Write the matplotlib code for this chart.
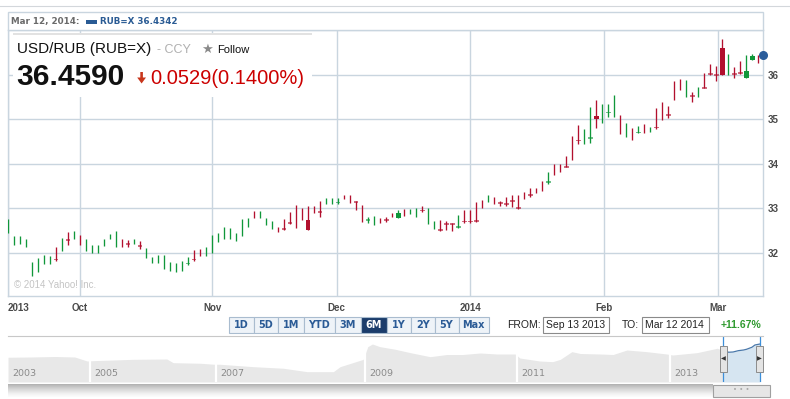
import numpy as np
import matplotlib
matplotlib.use("Agg")
import matplotlib.pyplot as plt
from matplotlib.patches import Rectangle, Polygon
from matplotlib.lines import Line2D

plt.rcParams['font.family'] = ['Liberation Sans', 'DejaVu Sans']

# one candle per weekday, Sep 13 2013 .. Mar 12 2014
highs = [32.75, 32.37, 32.37, 32.31, 31.79, 31.89, 31.95, 31.92, 32.12, 32.34,
         32.47, 32.50, 32.41, 32.32, 32.18, 32.18, 32.31, 32.42, 32.50, 32.30,
         32.29, 32.30, 32.27, 32.11, 31.90, 31.94, 31.95, 31.79, 31.78, 31.81,
         31.91, 32.07, 32.09, 32.13, 32.39, 32.44, 32.58, 32.55, 32.45, 32.75,
         32.77, 32.94, 32.94, 32.77, 32.72, 32.58, 32.75, 32.92, 33.08, 33.00,
         33.05, 33.05, 33.17, 33.23, 33.24, 33.24, 33.30, 33.29, 33.17, 33.07,
         32.81, 32.83, 32.79, 32.80, 32.89, 32.96, 32.98, 32.98, 33.01, 33.04,
         33.00, 32.71, 32.73, 32.72, 32.67, 32.85, 32.95, 32.95, 33.14, 33.18,
         33.29, 33.26, 33.16, 33.26, 33.29, 33.29, 33.37, 33.45, 33.45, 33.60,
         33.81, 33.99, 33.99, 34.17, 34.61, 34.86, 34.77, 35.27, 35.43, 35.34,
         35.35, 35.55, 35.09, 34.91, 34.80, 34.84, 34.89, 34.83, 35.26, 35.38,
         35.29, 35.85, 35.91, 35.88, 35.60, 35.71, 36.04, 36.24, 36.19, 36.80,
         36.47, 36.18, 36.31, 36.43, 36.46, 36.43]
lows = [32.44, 32.18, 32.20, 32.12, 31.49, 31.57, 31.74, 31.75, 31.82, 32.04,
        32.18, 32.31, 32.18, 32.05, 32.00, 32.00, 32.15, 32.31, 32.14, 32.14,
        32.12, 32.19, 32.08, 31.88, 31.78, 31.78, 31.63, 31.58, 31.57, 31.58,
        31.73, 31.82, 31.92, 31.93, 32.00, 32.24, 32.31, 32.32, 32.27, 32.38,
        32.58, 32.77, 32.77, 32.63, 32.54, 32.46, 32.52, 32.65, 32.56, 32.73,
        32.52, 32.89, 32.81, 33.10, 33.09, 33.09, 33.21, 33.11, 32.95, 32.69,
        32.67, 32.63, 32.67, 32.69, 32.80, 32.77, 32.83, 32.86, 32.81, 32.92,
        32.64, 32.53, 32.49, 32.52, 32.48, 32.55, 32.67, 32.67, 32.68, 33.01,
        33.14, 33.09, 33.05, 33.05, 33.03, 32.99, 33.20, 33.26, 33.35, 33.38,
        33.55, 33.75, 33.82, 33.92, 34.08, 34.44, 34.45, 34.46, 34.81, 34.92,
        35.04, 35.04, 34.66, 34.60, 34.54, 34.68, 34.68, 34.71, 34.78, 34.97,
        35.02, 35.43, 35.66, 35.49, 35.38, 35.50, 35.70, 35.99, 35.85, 36.00,
        36.00, 35.93, 36.01, 35.93, 36.32, 36.25]
# body open / close (None where no body is drawn)
N = None
opens = [N, N, N, N, N, N, N, N, 31.85, N,
         32.29, N, N, N, N, N, N, N, N, N,
         32.20, N, 32.16, N, N, N, N, N, N, N,
         31.76, 31.85, N, N, N, N, N, N, N, N,
         N, N, N, N, N, N, 32.54, 32.67, N, N,
         32.73, N, 32.92, N, N, 33.13, N, N, 33.14, N,
         32.73, N, N, 32.74, N, 32.77, N, N, N, 32.95,
         N, N, 32.52, 32.64, 32.65, 32.57, 32.70, 32.70, 32.72, N,
         N, N, 33.12, 33.09, 33.17, 33.01, N, 33.30, N, N,
         33.59, N, N, 33.93, N, 34.52, N, 34.57, 35.06, N,
         35.15, N, N, N, N, 34.70, N, N, 34.81, N,
         35.10, N, N, N, 35.51, N, 35.70, 36.01, 35.99, 36.59,
         N, 36.01, 36.04, 35.93, 36.33, N]
closes = [N, N, N, N, N, N, N, N, 31.85, N,
          32.29, N, N, N, N, N, N, N, N, N,
          32.20, N, 32.16, N, N, N, N, N, N, N,
          31.76, 31.85, N, N, N, N, N, N, N, N,
          N, N, N, N, N, N, 32.54, 32.67, N, N,
          32.52, N, 32.92, N, N, 33.13, N, N, 33.14, N,
          32.73, N, N, 32.74, N, 32.89, N, N, N, 32.95,
          N, N, 32.52, 32.64, 32.65, 32.57, 32.70, 32.70, 32.72, N,
          N, N, 33.12, 33.09, 33.17, 33.01, N, 33.30, N, N,
          33.59, N, N, 33.93, N, 34.52, N, 34.57, 35.00, N,
          35.15, N, N, N, N, 34.70, N, N, 34.81, N,
          35.10, N, N, N, 35.51, N, 35.70, 36.01, 35.99, 36.00,
          N, 36.01, 36.04, 36.07, 36.41, N]
# g = up day, r = down day (10 per chunk)
dirs = ("ggggggggrg" "rgrggggggr" "rgrggggggg" "grrggggggg" "grgggrrrrr"
        "rrrgggrrrr" "ggrrrgrggr" "ggrrrgrrrr" "grrrrrrrrr" "grrrrrggrg"
        "ggrgrgrgrr" "rrrgrgrrrr" "grrggr")

month_idx = [0, 12, 34.05, 54.8, 77, 99.4, 118.4]
month_lbl = ['2013', 'Oct', 'Nov', 'Dec', '2014', 'Feb', 'Mar']
price_ticks = [32, 33, 34, 35, 36]
last_quote = 36.4342

# navigator (long history), decimal years
nav_years = [2003.0, 2003.54, 2004.15, 2004.63, 2004.93, 2005.05, 2005.68, 2006.22,
             2006.32, 2006.75, 2006.97, 2007.05, 2007.5, 2007.9, 2008.22, 2008.57,
             2008.66, 2008.83, 2008.97, 2009.03, 2009.09, 2009.19, 2009.39, 2009.59,
             2009.85, 2010.07, 2010.28, 2010.51, 2010.73, 2010.97, 2011.03, 2011.29,
             2011.46, 2011.56, 2011.71, 2011.82, 2012.08, 2012.25, 2012.43, 2012.69,
             2012.95, 2013.03, 2013.35, 2013.62, 2013.70]
nav_vals = [28.45, 28.6, 28.9, 28.6, 26.2, 26.4, 27.2, 27.4,
            25.2, 24.85, 24.25, 24.25, 22.8, 21.85, 19.8, 19.8,
            22.8, 25.2, 27.2, 34.8, 36.4, 34.8, 33.25, 31.2,
            28.8, 30.1, 30.1, 31.0, 30.4, 30.4, 28.0, 26.2,
            25.8, 27.2, 31.8, 30.7, 30.4, 30.1, 32.8, 31.8,
            30.4, 29.8, 31.2, 33.85, 32.6]
sel_years = [2013.70, 2013.72, 2013.77, 2013.83, 2013.90, 2013.97, 2014.01, 2014.08, 2014.12, 2014.19]
sel_vals = [32.5, 32.4, 31.45, 31.6, 32.4, 32.8, 33.25, 34.45, 35.8, 36.43]
sep_years = [2005, 2007, 2009, 2011, 2013]
lbl_years = [2003, 2005, 2007, 2009, 2011, 2013]

buttons = ['1D', '5D', '1M', 'YTD', '3M', '6M', '1Y', '2Y', '5Y', 'Max']
active = '6M'

RED = '#b2102e'
GREEN = '#10973a'
GRID = '#c9d5df'

W, H = 790, 399
fig = plt.figure(figsize=(W / 100, H / 100), dpi=100)


def box(x0, y0, x1, y1):
    return [x0 / W, 1 - y1 / H, (x1 - x0) / W, (y1 - y0) / H]


def prect(x0, y0, x1, y1, **kw):
    r = Rectangle((x0 / W, 1 - y1 / H), (x1 - x0) / W, (y1 - y0) / H,
                  transform=fig.transFigure, **kw)
    fig.add_artist(r)
    return r


def ptext(x, y, s, **kw):
    return fig.text(x / W, 1 - y / H, s, **kw)


# main candle chart
ax = fig.add_axes(box(8, 30, 763, 296))
idx = np.arange(len(highs))
cols = [GREEN if d == 'g' else RED for d in dirs]
ax.vlines(idx, lows, highs, colors=cols, lw=0.95, zorder=3)
for i in idx:
    if opens[i] is None:
        continue
    lo = min(opens[i], closes[i])
    h = abs(opens[i] - closes[i])
    thin = h < 0.03
    ax.bar(i, max(h, 0.04), bottom=lo - (0.02 if thin else 0), width=0.83,
           color=cols[i], alpha=0.6 if thin else 1.0, lw=0, zorder=4)

ax.set_xlim(0, 125.83)
ax.set_ylim(31.03, 37.0)
ax.plot(ax.get_xlim()[1], last_quote, 'o', ms=5.5, color='#2b5d9b',
        clip_on=False, zorder=6)
ax.set_yticks(price_ticks)
ax.set_xticks(month_idx, month_lbl)
ax.yaxis.tick_right()
ax.grid(True, color=GRID, lw=1.0)
ax.set_axisbelow(True)
ax.tick_params(length=0, labelsize=7, labelcolor='#4a4a4a')
ax.tick_params(axis='x', pad=5)
ax.tick_params(axis='y', pad=3.5)
for t in ax.get_xticklabels() + ax.get_yticklabels():
    t.set_fontweight('bold')
ax.get_xticklabels()[0].set_horizontalalignment('left')
ax.get_xticklabels()[0].set_x(0.4)
for s in ax.spines.values():
    s.set_color(GRID)
    s.set_linewidth(1.0)

ax.text(0.008, 0.022, '\u00a9 2014 Yahoo! Inc.', transform=ax.transAxes,
        fontsize=7, color='#c4c4c4', va='bottom')

# header band and lines
fig.add_artist(Line2D([0, 1], [1 - 6 / H] * 2, color='#d3d7db', lw=0.8,
                      transform=fig.transFigure))
prect(8, 12, 763, 30, facecolor='white', edgecolor=GRID, lw=1.0)
ptext(11, 21.8, 'Mar 12, 2014:', fontsize=6.3, fontweight='bold', color='#6a6a6a',
      family='DejaVu Sans', va='center')
prect(86, 20, 97, 23.5, facecolor='#2a5b94', lw=0)
ptext(100, 21.8, 'RUB=X 36.4342', fontsize=6.3, fontweight='bold', color='#2a5b94',
      family='DejaVu Sans', va='center')

# quote box
prect(13, 33, 312, 35, facecolor='#e2e2e2', lw=0, zorder=5)
prect(13, 35, 312, 97, facecolor='white', lw=0, zorder=5)
ptext(17, 53.3, 'USD/RUB (RUB=X)', fontsize=11, color='#111111', zorder=6)
ptext(157, 53.3, '- CCY', fontsize=9, color='#b0b0b0', zorder=6)
ptext(201, 53.3, '\u2605', fontsize=9.5, color='#8a8a8a', zorder=6,
      family=['DejaVu Sans'])
ptext(217, 53.3, 'Follow', fontsize=8, color='#111111', zorder=6)
ptext(16, 85, '36.4590', fontsize=21.5, fontweight='bold', color='#111111', zorder=6)
arrow = [(140.3, 72), (142.9, 72), (142.9, 77.5), (146, 77.5), (141.6, 83.5),
         (137.2, 77.5), (140.3, 77.5)]
fig.add_artist(Polygon([(x / W, 1 - y / H) for x, y in arrow], closed=True,
                       transform=fig.transFigure, facecolor='#c8361c', lw=0, zorder=6))
ptext(150, 83.5, '0.0529(0.1400%)', fontsize=14.5, color='#cc0000', zorder=6)

# range buttons
edges = [229, 254, 278, 303.5, 334.5, 361, 386.5, 411, 434.5, 458.5, 489]
for k, lab in enumerate(buttons):
    on = lab == active
    prect(edges[k], 316.5, edges[k + 1], 332.5,
          facecolor='#1b3c6b' if on else '#eef3f8', edgecolor='#a9bccf', lw=0.8)
    ptext((edges[k] + edges[k + 1]) / 2, 324.8, lab, fontsize=7, fontweight='bold',
          family='DejaVu Sans', color='white' if on else '#2b5b96',
          ha='center', va='center')

ptext(507, 325, 'FROM:', fontsize=7.5, color='#222222', va='center')
prect(543, 316.5, 609, 333, facecolor='white', edgecolor='#8a8a8a', lw=0.8)
ptext(546, 325, 'Sep 13 2013', fontsize=7.5, color='#222222', va='center')
ptext(622, 325, 'TO:', fontsize=7.5, color='#222222', va='center')
prect(642, 316.5, 709, 333, facecolor='white', edgecolor='#8a8a8a', lw=0.8)
ptext(645, 325, 'Mar 12 2014', fontsize=7.5, color='#222222', va='center')
ptext(721, 325, '+11.67%', fontsize=7.5, fontweight='bold', color='#2f9a2f', va='center')

# navigator
yr_anchor = [2003, 2005, 2007, 2009, 2011, 2013, 2015]
pos_anchor = [0, 82, 208, 357.5, 509.5, 662.5, 813.3]
nav = fig.add_axes(box(8, 336, 763, 382))
nav.set_xscale('function', functions=(lambda v: np.interp(v, yr_anchor, pos_anchor),
                                      lambda p: np.interp(p, pos_anchor, yr_anchor)))
nav.set_xlim(2003.0, 2014.227)
nav.set_ylim(13.6, 41.2)
nav.fill_between(nav_years, nav_vals, 13.6, color='#e8e8e8', lw=0)
nav.fill_between(sel_years, sel_vals, 13.6, color='#d6e5f1', lw=0)
nav.plot(sel_years, sel_vals, color='#4a78aa', lw=0.9)
for yv in sep_years:
    nav.axvline(yv, color='white', lw=1.6)
for yv in lbl_years:
    nav.annotate(str(yv), xy=(yv, 0), xycoords=('data', 'axes fraction'),
                 xytext=(4, 8), textcoords='offset pixels', fontsize=6.8,
                 color='#8a8a8a', family='DejaVu Sans', va='center')
nav.axvline(sel_years[0], color='#3d8fd9', lw=0.9)
nav.axvline(sel_years[-1], color='#3d8fd9', lw=0.9)
nav.set_xticks([])
nav.set_yticks([])
for side, s in nav.spines.items():
    s.set_visible(side == 'top')
    s.set_color('#c8c8c8')
nav.patch.set_alpha(0)

for x0 in (720, 756):
    prect(x0, 346, x0 + 7, 372, facecolor='#e4e4e4', edgecolor='#8c8c8c', lw=0.7)
ptext(723.5, 359, '\u25c0', fontsize=4.5, color='#333333', ha='center', va='center',
      family=['DejaVu Sans'])
ptext(759.5, 359, '\u25b6', fontsize=4.5, color='#333333', ha='center', va='center',
      family=['DejaVu Sans'])

# scrollbar
sb = fig.add_axes(box(8, 383.5, 713, 397))
sb.imshow(np.linspace(0, 1, 30).reshape(-1, 1), aspect='auto', cmap='Greys_r',
          vmin=-1.3, vmax=1.05, extent=(0, 1, 0, 1))
sb.axis('off')
prect(713, 384.5, 770, 396.5, facecolor='#e6e6e6', edgecolor='#a0a0a0', lw=0.8)
ptext(741.5, 390.5, '\u2022 \u2022 \u2022', fontsize=5, color='#aaaaaa',
      ha='center', va='center', family=['DejaVu Sans'])

fig.savefig('out.png', dpi=100)
